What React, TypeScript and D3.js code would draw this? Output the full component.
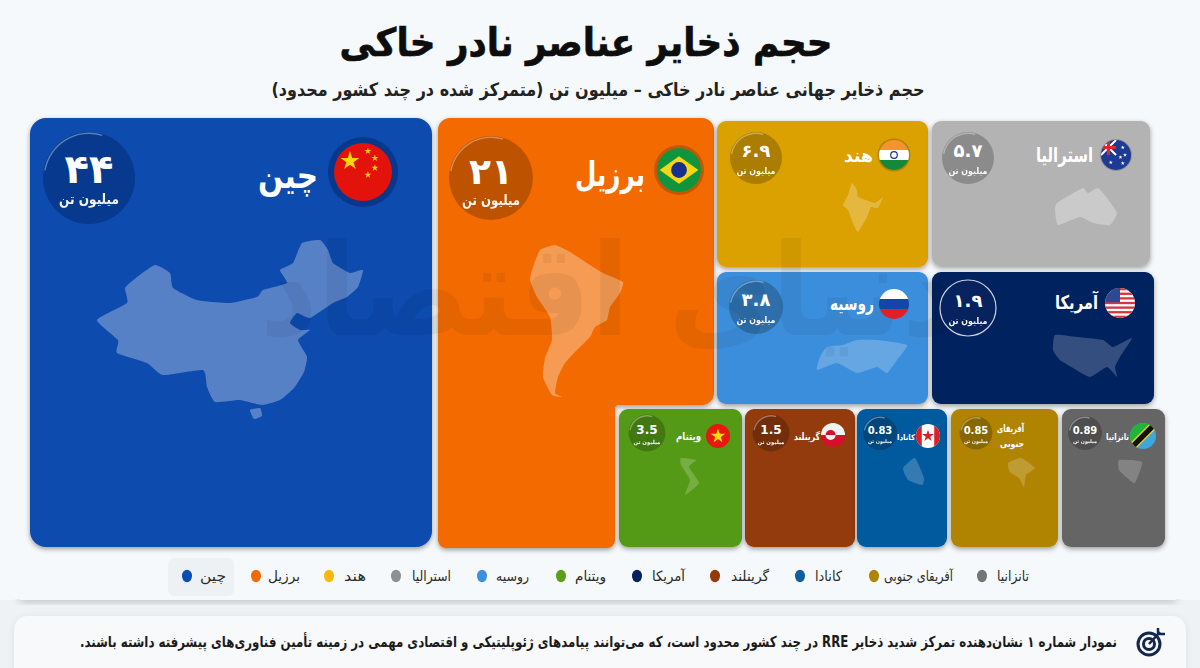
import React from "react";
import * as d3 from "d3";

// ---- data ----
const countries = ["چین", "برزیل", "هند", "استرالیا", "روسیه", "ویتنام", "آمریکا", "گرینلند", "کانادا", "آفریقای جنوبی", "تانزانیا"];
const reserves = [44, 21, 6.9, 5.7, 3.8, 3.5, 1.9, 1.5, 0.83, 0.85, 0.89];
const valueLabels = ["۴۴", "۲۱", "۶.۹", "۵.۷", "۳.۸", "3.5", "۱.۹", "1.5", "0.83", "0.85", "0.89"];
const colors = ["#0a4cae", "#f26a00", "#dba105", "#b3b3b3", "#3b8edb", "#559a16", "#05205e", "#933a08", "#045a9d", "#b08405", "#656565"];
const legendColors = ["#0a4db1", "#f36b00", "#fdb90b", "#8f8f8f", "#3f8fe0", "#5a9e1c", "#05205e", "#943a08", "#0e5f9e", "#b08405", "#757575"];
const title = "حجم ذخایر عناصر نادر خاکی";
const subtitle = "حجم ذخایر جهانی عناصر نادر خاکی – میلیون تن (متمرکز شده در چند کشور محدود)";
const unit = "میلیون تن";
const footnote = "نمودار شماره ۱ نشان‌دهنده تمرکز شدید ذخایر RRE در چند کشور محدود است، که می‌توانند پیامدهای ژئوپلیتیکی و اقتصادی مهمی در زمینه تأمین فناوری‌های پیشرفته داشته باشند.";
const watermark = "دنیای اقتصاد";

// ---- layout ----
type Cell = { x0: number; y0: number; x1: number; y1: number; badge: number[]; flag: number[]; name: number[] };
// badge: cx, cy, r, value size, unit size, unit width, value dy, unit dy ; flag: cx, cy, r, ring ; name: right edge, baseline, size, width
const cells: Cell[] = [
  { x0: 30, y0: 118, x1: 432, y1: 547, badge: [89, 178, 46, 40, 14, 60, 5, 26], flag: [363, 172, 29, 6], name: [318, 188, 36, 60] },
  { x0: 438, y0: 118, x1: 714, y1: 405, badge: [491, 178, 42, 36, 14, 58, 6, 27], flag: [679, 170, 22, 3], name: [645, 186, 34, 70] },
  { x0: 717, y0: 121, x1: 928, y1: 267, badge: [756, 158, 26, 18, 9, 39, -1, 16], flag: [894, 155, 15, 1.5], name: [873, 162, 18, 29] },
  { x0: 932, y0: 121, x1: 1150, y1: 266, badge: [968, 158, 26, 18, 9, 39, -1, 16], flag: [1116, 155, 15, 1], name: [1093, 162, 20, 57] },
  { x0: 717, y0: 272, x1: 928, y1: 404, badge: [756, 307, 27, 18, 9, 39, -1, 16], flag: [894, 304, 15, 0], name: [874, 310, 19, 44] },
  { x0: 619, y0: 409, x1: 742, y1: 547, badge: [647, 433, 18.5, 12, 5.5, 27, 1, 11], flag: [718, 436, 12, 0], name: [701, 440, 11, 25] },
  { x0: 932, y0: 272, x1: 1154, y1: 404, badge: [968, 308, 28, 18, 9, 39, -1, 16], flag: [1120, 303, 15, 0], name: [1098, 309, 19, 43] },
  { x0: 745, y0: 409, x1: 855, y1: 547, badge: [771, 433, 18.5, 12, 5.5, 27, 1, 11], flag: [833, 435, 12, 0], name: [820, 440, 10, 26] },
  { x0: 857, y0: 409, x1: 947, y1: 547, badge: [880, 433, 17, 10, 5, 24, 1, 10], flag: [928, 436, 12, 0], name: [915, 440, 8, 18] },
  { x0: 951, y0: 409, x1: 1058, y1: 547, badge: [976, 433, 16.5, 10, 5, 24, 1, 10], flag: [1012, 427, 0, 0], name: [1024, 432, 10, 27] },
  { x0: 1062, y0: 409, x1: 1165, y1: 547, badge: [1085, 433, 17, 10, 5, 24, 1, 10], flag: [1143, 436, 13, 0], name: [1129, 440, 9, 23] },
];
const brazilFootX = 615;
const brazilFootY = 548;
const legendDotX = [187, 256, 329, 396, 482, 561, 637, 715, 800, 874, 982];
const legendTextX = [226, 300, 366, 451, 529, 606, 685, 769, 842, 953, 1029];
const legendTextW = [26, 32, 22, 39, 33, 31, 33, 38, 27, 69, 32];

// decorative map outlines (page pixels)
type P = [number, number];
const mapChina: P[] = [[302,243],[320,240],[328,250],[333,263],[350,273],[363,270],[358,287],[347,297],[333,303],[310,318],[297,313],[290,323],[300,330],[310,330],[298,340],[307,357],[304,372],[294,388],[280,400],[262,405],[240,400],[215,402],[207,387],[203,370],[163,375],[147,363],[117,353],[118,340],[97,320],[127,303],[125,288],[137,277],[155,265],[170,273],[173,288],[197,300],[230,303],[257,297],[263,290],[287,283],[280,270],[293,263]];
const mapHainan: P[] = [[250,410],[260,408],[262,416],[254,419]];
const mapSA: P[] = [[540,250],[555,245],[570,252],[590,265],[603,273],[623,282],[620,293],[610,307],[607,320],[595,327],[590,337],[577,350],[565,363],[558,377],[555,393],[562,397],[552,395],[543,377],[545,358],[552,340],[550,317],[537,297],[530,280],[533,267]];
const mapIndia: P[] = [[852,183],[857,190],[858,197],[875,203],[883,197],[878,208],[871,207],[867,217],[858,232],[853,223],[848,210],[843,205],[848,195]];
const mapAus: P[] = [[1057,203],[1070,195],[1083,188],[1088,193],[1098,188],[1107,198],[1117,213],[1110,225],[1093,223],[1080,217],[1058,225],[1055,210]];
const mapRussia: P[] = [[817,370],[820,357],[827,347],[843,345],[857,340],[877,340],[907,345],[897,360],[887,373],[877,367],[857,373],[837,363]];
const mapUSA: P[] = [[1055,335],[1077,337],[1103,340],[1113,347],[1132,338],[1120,357],[1115,367],[1117,377],[1107,367],[1090,377],[1073,368],[1060,360],[1053,350]];
const mapViet: P[] = [[681,458],[696,460],[689,467],[699,483],[685,495],[690,480],[681,465]];
const mapCanada: P[] = [[903,468],[915,458],[924,478],[922,485],[908,480]];
const mapAfrica: P[] = [[1008,463],[1021,458],[1035,468],[1026,475],[1024,487],[1019,478],[1010,472]];
const mapTanz: P[] = [[1119,460],[1142,462],[1135,483],[1126,477],[1119,470]];
const maps: P[][][] = [[mapChina, mapHainan], [mapSA], [mapIndia], [mapAus], [mapRussia], [mapViet], [mapUSA], [], [mapCanada], [mapAfrica], [mapTanz]];
const mapOpacity = [0.3, 0.33, 0.25, 0.3, 0.22, 0.2, 0.2, 0, 0.2, 0.2, 0.2];

const FONT = "'DejaVu Sans', sans-serif";
const outline = d3.line<P>().curve(d3.curveCardinalClosed.tension(0.55));
const ringArc = d3.arc();
const star = (s: number) => d3.symbol(d3.symbolStar, s)() as string;

function rrect(x0: number, y0: number, x1: number, y1: number, r: number) {
  const p = d3.path();
  p.moveTo(x0 + r, y0);
  p.arcTo(x1, y0, x1, y1, r);
  p.arcTo(x1, y1, x0, y1, r);
  p.arcTo(x0, y1, x0, y0, r);
  p.arcTo(x0, y0, x1, y0, r);
  p.closePath();
  return p.toString();
}
function brazilPath(c: Cell, r: number) {
  const p = d3.path();
  p.moveTo(c.x0 + r, c.y0);
  p.arcTo(c.x1, c.y0, c.x1, c.y1, r);
  p.arcTo(c.x1, c.y1, brazilFootX, c.y1, r);
  p.arcTo(brazilFootX, c.y1, brazilFootX, brazilFootY, 4);
  p.arcTo(brazilFootX, brazilFootY, c.x0, brazilFootY, 8);
  p.arcTo(c.x0, brazilFootY, c.x0, c.y0, 8);
  p.arcTo(c.x0, c.y0, c.x1, c.y0, r);
  p.closePath();
  return p.toString();
}

function Flag({ i, cx, cy, r, ring }: { i: number; cx: number; cy: number; r: number; ring: number }) {
  const id = `fl${i}`;
  const w = 2 * r, x = cx - r, y = cy - r;
  const band = d3.scaleBand<number>().domain([0, 1, 2]).range([y, y + w]);
  const stripes = (cols: string[]) => cols.map((c, k) => <rect key={k} x={x} y={band(k)} width={w} height={band.bandwidth() + 0.5} fill={c} />);
  let content: React.ReactNode = null;
  if (i === 0) content = <g>
    <rect x={x} y={y} width={w} height={w} fill="#e3120b" />
    <path d={star(r * r * 0.13)} transform={`translate(${cx - r * 0.45},${cy - r * 0.38})`} fill="#ffd60a" />
    {[[0.17,-0.72],[0.41,-0.48],[0.41,-0.14],[0.17,0.1]].map((q, k) => <path key={k} d={star(r * r * 0.018)} transform={`translate(${cx + q[0] * r},${cy + q[1] * r})`} fill="#f7c815" />)}
  </g>;
  if (i === 1) content = <g>
    <rect x={x} y={y} width={w} height={w} fill="#10953f" />
    <path d={`M${cx - r * 0.88},${cy} L${cx},${cy - r * 0.62} L${cx + r * 0.88},${cy} L${cx},${cy + r * 0.62} Z`} fill="#fbd512" />
    <circle cx={cx} cy={cy} r={r * 0.36} fill="#17308f" />
  </g>;
  if (i === 2) content = <g>{stripes(["#f7932e", "#ffffff", "#15883a"])}<circle cx={cx} cy={cy} r={r * 0.22} fill="none" stroke="#1c2f87" strokeWidth={1.2} /></g>;
  if (i === 3) content = <g>
    <rect x={x} y={y} width={w} height={w} fill="#1d3a94" />
    <path d={`M${x},${y} L${cx},${cy} M${cx},${y} L${x},${cy}`} stroke="#fff" strokeWidth={2} />
    <path d={`M${x + r / 2},${y} V${cy} M${x},${y + r / 2} H${cx}`} stroke="#e3242b" strokeWidth={3} />
    {[[0.45,-0.5],[0.6,0],[0.3,0.15],[0.45,0.55],[-0.35,0.5]].map((q, k) => <path key={k} d={star(5)} transform={`translate(${cx + q[0] * r},${cy + q[1] * r})`} fill="#fff" />)}
  </g>;
  if (i === 4) content = <g>{stripes(["#ffffff", "#1446a8", "#e01f26"])}</g>;
  if (i === 5) content = <g><rect x={x} y={y} width={w} height={w} fill="#e5190f" /><path d={star(r * r * 0.45)} transform={`translate(${cx},${cy})`} fill="#ffdf00" /></g>;
  if (i === 6) content = <g>
    <rect x={x} y={y} width={w} height={w} fill="#fff" />
    {d3.range(0, 7).map((k) => <rect key={k} x={x} y={y + k * w / 6.5} width={w} height={w / 13} fill="#d8343e" />)}
    <rect x={x} y={y} width={r} height={r * 0.95} fill="#2c4a8f" />
  </g>;
  if (i === 7) content = <g>
    <rect x={x} y={y} width={w} height={r} fill="#f2f2f2" />
    <rect x={x} y={cy} width={w} height={r} fill="#d80f2c" />
    <path d={`M${cx - r * 0.62},${cy} a${r * 0.42},${r * 0.42} 0 0 1 ${r * 0.84},0 Z`} fill="#d80f2c" />
    <path d={`M${cx - r * 0.62},${cy} a${r * 0.42},${r * 0.42} 0 0 0 ${r * 0.84},0 Z`} fill="#f2f2f2" />
  </g>;
  if (i === 8) content = <g>
    <rect x={x} y={y} width={w} height={w} fill="#fff" />
    <rect x={x} y={y} width={w * 0.24} height={w} fill="#dc1f26" />
    <rect x={x + w * 0.76} y={y} width={w * 0.24} height={w} fill="#dc1f26" />
    <path d={star(r * r * 0.3)} transform={`translate(${cx},${cy})`} fill="#dc1f26" />
  </g>;
  if (i === 10) content = <g>
    <rect x={x} y={y} width={w} height={w} fill="#3fa7de" />
    <path d={`M${x},${y} H${x + w} L${x},${y + w} Z`} fill="#1eb53a" />
    <path d={`M${x},${y + w} L${x + w},${y}`} stroke="#fcd116" strokeWidth={r * 0.62} />
    <path d={`M${x},${y + w} L${x + w},${y}`} stroke="#111" strokeWidth={r * 0.42} />
  </g>;
  if (!content) return null;
  const ringFill = i === 0 ? "#06388c" : "#000";
  return <g>
    <defs><clipPath id={id}><circle cx={cx} cy={cy} r={r} /></clipPath></defs>
    {ring > 0 && <circle cx={cx} cy={cy} r={r + ring} fill={ringFill} opacity={i === 0 ? 1 : 0.18} />}
    <g clipPath={`url(#${id})`}>{content}</g>
  </g>;
}

export default function App() {
  return (
    <svg width={1200} height={668} viewBox="0 0 1200 668" style={{ position: "absolute", left: 0, top: 0, fontFamily: FONT }}>
      <defs>
        <filter id="sh" x="-10%" y="-10%" width="120%" height="120%">
          <feDropShadow dx="0" dy="2" stdDeviation="2.5" floodColor="#000" floodOpacity="0.38" />
        </filter>
        <filter id="band" x="-5%" y="-5%" width="110%" height="110%">
          <feDropShadow dx="0" dy="2" stdDeviation="4" floodColor="#000" floodOpacity="0.2" />
        </filter>
        <filter id="soft" x="-5%" y="-20%" width="110%" height="140%">
          <feDropShadow dx="0" dy="1" stdDeviation="3" floodColor="#000" floodOpacity="0.08" />
        </filter>
        <clipPath id="belowBand"><rect x={0} y={599} width={1200} height={40} /></clipPath>
      </defs>
      <rect width={1200} height={668} fill="#f6f9fb" />
      <rect x={0} y={600} width={1200} height={68} fill="#eef2f5" />
      <g clipPath="url(#belowBand)"><rect x={20} y={500} width={1156} height={100} fill="#f6f9fb" filter="url(#band)" /></g>

      <text x={586} y={56} direction="rtl" textAnchor="middle" fontSize={39} fontWeight={700} fill="#0d0d0d" stroke="#0d0d0d" strokeWidth={0.7} textLength={493} lengthAdjust="spacingAndGlyphs">{title}</text>
      <text x={598} y={96} direction="rtl" textAnchor="middle" fontSize={18.5} fontWeight={700} fill="#222" textLength={653} lengthAdjust="spacingAndGlyphs">{subtitle}</text>

      {cells.map((c, i) => (
        <path key={i} d={i === 1 ? brazilPath(c, 12) : rrect(c.x0, c.y0, c.x1, c.y1, i === 0 ? 16 : 9)} fill={colors[i]} filter="url(#sh)" />
      ))}

      {maps.map((ms, i) => ms.map((m, k) => <path key={`${i}-${k}`} d={outline(m) as string} fill="#fff" opacity={mapOpacity[i]} />))}

      <text x={610} y={335} direction="rtl" textAnchor="middle" fontSize={128} fontWeight={700} fill="#000" opacity={0.05} textLength={700} lengthAdjust="spacingAndGlyphs">{watermark}</text>

      {cells.map((c, i) => {
        const [bx, by, br, vs, us, uw, vdy, udy] = c.badge;
        const [fx, fy, fr, ring] = c.flag;
        const [nx, ny, ns, nw] = c.name;
        const dark = i === 0 || i === 6;
        const isSA = countries[i] === "آفریقای جنوبی";
        const words = isSA ? countries[i].split(" ") : [countries[i]];
        return (
          <g key={i}>
            <circle cx={bx} cy={by} r={br} fill={dark ? (i === 6 ? "#07235f" : "#073a8e") : "#000"} opacity={dark ? 1 : 0.22} stroke={i === 6 ? "#c8d0dc" : "none"} strokeWidth={i === 6 ? 1.2 : 0} />
            <path transform={`translate(${bx},${by})`} fill="#fff" opacity={i === 6 ? 0 : 0.35}
              d={ringArc({ innerRadius: br - 2, outerRadius: br - 0.6, startAngle: -1.4, endAngle: 0.3 }) as string} />
            <text x={bx} y={by + vdy} direction="ltr" textAnchor="middle" fontSize={vs} fontWeight={700} fill="#fff">{valueLabels[i]}</text>
            <text x={bx} y={by + udy} direction="rtl" textAnchor="middle" fontSize={us} fontWeight={700} fill="#fff" opacity={0.95} textLength={uw} lengthAdjust="spacingAndGlyphs">{unit}</text>
            <Flag i={i} cx={fx} cy={fy} r={fr} ring={ring} />
            {words.map((w, k) => (
              <text key={k} x={nx} y={ny + k * 15} direction="rtl" textAnchor="start" fontSize={ns} fontWeight={700} fill="#fff" textLength={nw - (k ? 3 : 0)} lengthAdjust="spacingAndGlyphs">{w}</text>
            ))}
          </g>
        );
      })}

      <rect x={168} y={558} width={66} height={38} rx={6} fill="#eef1f4" />
      {countries.map((n, i) => (
        <g key={i}>
          <ellipse cx={legendDotX[i]} cy={576} rx={5} ry={6.2} fill={legendColors[i]} />
          <text x={legendTextX[i]} y={581} direction="rtl" textAnchor="start" fontSize={14} fontWeight={400} fill="#2a2a2a" textLength={legendTextW[i]} lengthAdjust="spacingAndGlyphs">{n}</text>
        </g>
      ))}

      <rect x={14} y={616} width={1172} height={70} rx={14} fill="#f7f9fb" filter="url(#soft)" />
      <text x={1117} y={647} direction="rtl" textAnchor="start" fontSize={15} fontWeight={700} fill="#1b1b1b" textLength={1037} lengthAdjust="spacingAndGlyphs">{footnote}</text>
      <g fill="none" stroke="#14284f" strokeWidth={3}>
        <circle cx={1149} cy={644} r={11} />
        <circle cx={1149} cy={644} r={5.5} />
        <path d="M1149,644 L1160,632 M1158,628 V634 H1165" strokeWidth={2.5} />
      </g>
    </svg>
  );
}
